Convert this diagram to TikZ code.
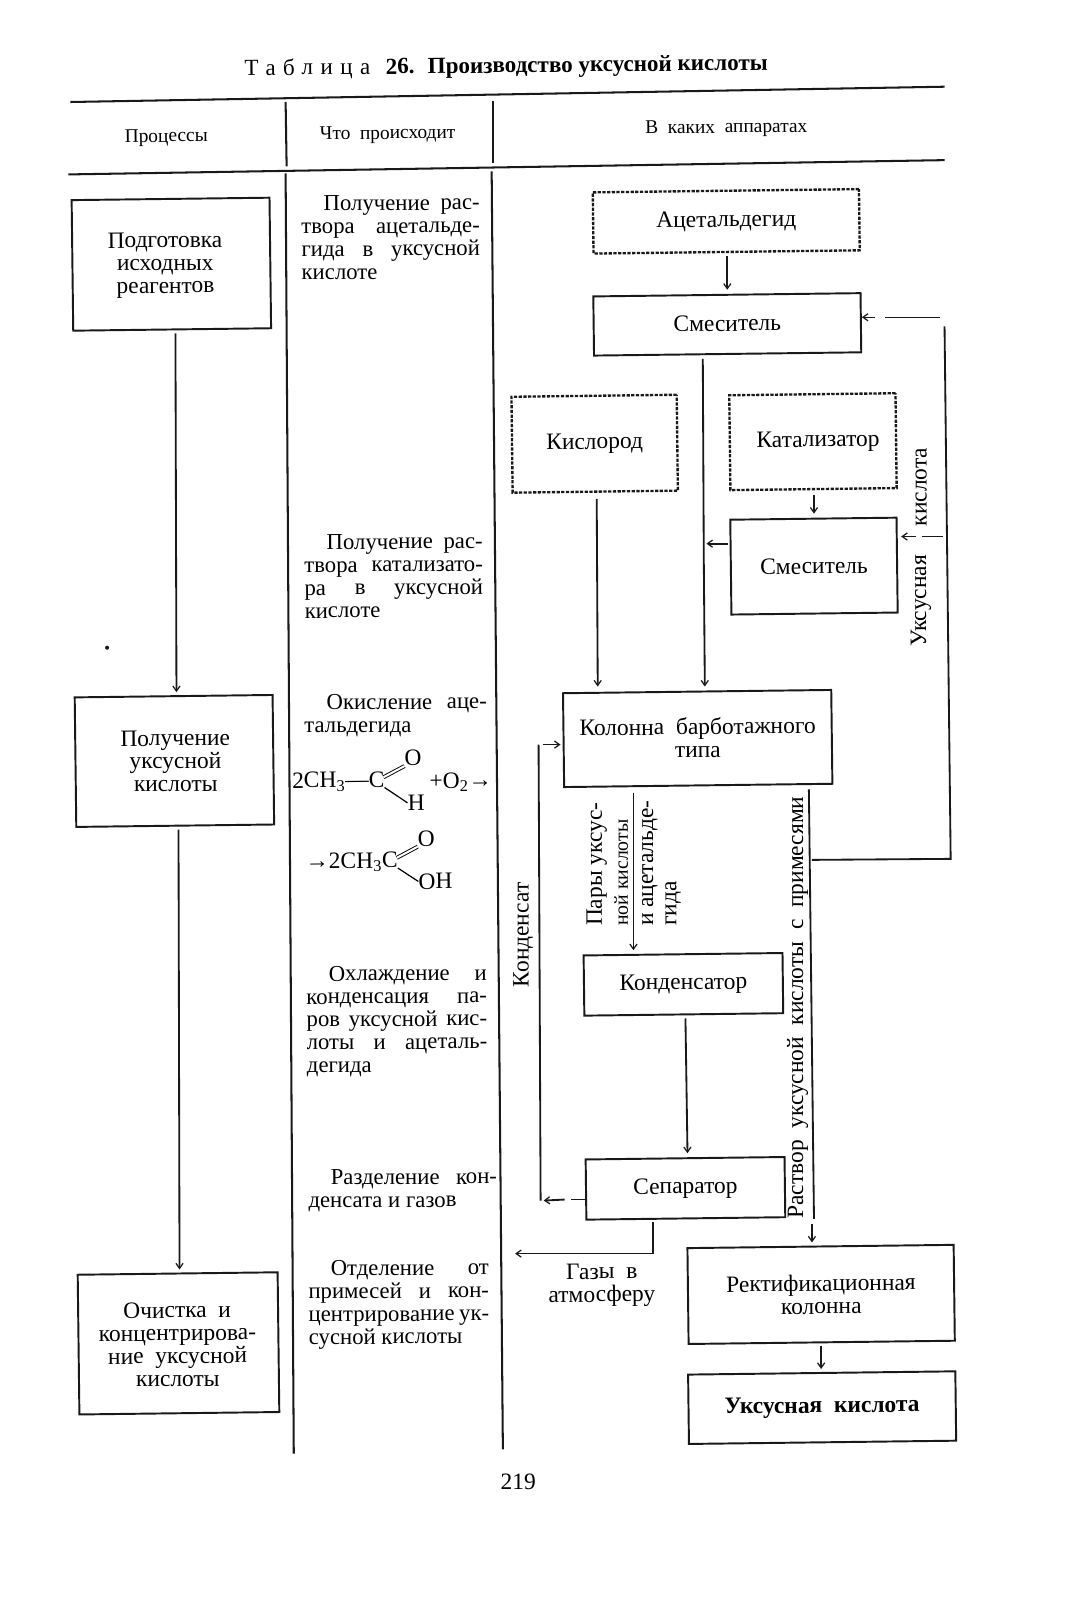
\documentclass[tikz,border=0pt]{standalone}
\usepackage{fontspec}
\setmainfont{Liberation Serif}
\usetikzlibrary{arrows.meta,calc}
\newcommand{\fs}{\fontsize{23}{22.4}\selectfont\hyphenpenalty=10000 }
\newcommand{\fm}{\fontsize{22.3}{22.4}\selectfont\hyphenpenalty=10000 }
\newcommand{\ind}{\hspace*{22pt}}
\tikzset{
  inkline/.style={line width=1.8pt,draw=black!90},
  arr/.style={inkline,-{Straight Barb[length=5pt,width=7pt,line width=1.2pt]}},
  rule/.style={line width=2pt,draw=black!90},
  box/.style={draw=black!90,line width=1.9pt,inner sep=0pt,rotate=0.7,align=center,font=\fs},
  dbox/.style={box,line width=2.3pt,dash pattern=on 3.2pt off 1.4pt},
  lab/.style={inner sep=0pt,align=center,font=\fs,rotate=0.6},
  vlab/.style={inner sep=0pt,anchor=west,rotate=90,font=\fs},
  hdr/.style={inner sep=0pt,font=\fontsize{19}{20}\selectfont,rotate=0.6},
  just/.style={inner sep=0pt,anchor=north west,text width=#1,align=justify,font=\fm,rotate=0.4},
}
\begin{document}
\begin{tikzpicture}[x=1pt,y=-1pt]
\useasboundingbox (0,0) rectangle (1046,1568.6);
% title
\node[inner sep=0pt,rotate=0.6,anchor=east,font=\fontsize{22.6}{24}\selectfont] (title) at (753,63) {\addfontfeature{LetterSpace=32}Таблица\addfontfeature{LetterSpace=0}\hspace{8pt}\textbf{26.}\hspace{13pt}\textbf{Производство уксусной кислоты}};
% rules
\coordinate (r1a) at (69,100); \coordinate (r1b) at (926,85);
\coordinate (r2a) at (67,171); \coordinate (r2b) at (926,157);
\draw[rule] (r1a) -- (r1b);
\draw[rule] (r2a) -- (r2b);
\coordinate (v1a) at (280,100); \coordinate (v1b) at (281,163);
\coordinate (v2a) at (483,99); \coordinate (v2b) at (483,160);
\coordinate (v3a) at (280,170); \coordinate (v3b) at (288,1425);
\coordinate (v4a) at (482,168); \coordinate (v4b) at (493,1421);
\draw[rule] (v1a) -- (v1b);
\draw[rule] (v2a) -- (v2b);
\draw[rule] (v3a) -- (v3b);
\draw[rule] (v4a) -- (v4b);
% headers
\node[hdr] (h1) at (163,135) {Процессы};
\node[hdr] (h2) at (380,132) {Что\ \ происходит};
\node[hdr] (h3) at (712,126) {В\ \ каких\ \ аппаратах};
% process boxes
\node[box,minimum width=194,minimum height=128] (p1) at (168,259) {};
\node[box,minimum width=194,minimum height=127] (p2) at (171,746) {};
\node[box,minimum width=196,minimum height=137] (p3) at (175,1317) {};
\node[lab] (p1t) at (162,260) {Подготовка\\ исходных\\ реагентов};
\node[lab] (p2t) at (172,746) {Получение\\ уксусной\\ кислоты};
\node[lab] (p3t) at (174,1318) {Очистка\ \ и\\ концентрирова-\\ ние\ \ уксусной\\ кислоты};
\coordinate (xa) at (172,0); \coordinate (xb) at (175,0);
\draw[arr] (p1.south -| xa) ++(0,3) -- ($(p2.north -| xa)+(1,-3)$);
\draw[arr] (p2.south -| xb) ++(0,3) -- ($(p3.north -| xb)+(1,-3)$);
\fill[black!90] (105,635) circle (2pt);
% middle column
\node[just=175pt] (t1) at (295,192) {\ind Получение рас-\linebreak твора ацетальде-\linebreak гида в уксусной\linebreak кислоте};
\node[just=175pt] (t2) at (298,524) {\ind Получение рас-\linebreak твора катализато-\linebreak ра в уксусной\linebreak кислоте};
\node[just=179pt] (t3) at (298,681) {\ind Окисление аце-\linebreak тальдегида};
\node[just=177pt] (t4) at (300,947) {\ind Охлаждение и\linebreak конденсация па-\linebreak ров уксусной кис-\linebreak лоты и ацеталь-\linebreak дегида};
\node[just=185pt] (t5) at (302,1147) {\ind Разделение кон-\linebreak денсата и газов};
\node[just=177pt] (t6) at (302,1236) {\ind Отделение от\linebreak примесей и кон-\linebreak центрирование ук-\linebreak сусной кислоты};
% formula
\node[lab,anchor=east] (c1) at (377,766) {2CH\textsubscript{3}—C};
\node[lab] (o1) at (405,743) {O};
\node[lab] (h1b) at (408,787) {H};
\node[lab,anchor=west] (plus) at (421,767) {+O\textsubscript{2}→};
\draw[line width=0.9pt,double,double distance=2pt] ($(c1.east)+(-1,-4)$) -- (o1.south west);
\draw[line width=1.2pt] ($(c1.east)+(0,6)$) -- (h1b.west);
\node[lab,anchor=east] (c2) at (390,845) {→2CH\textsubscript{3}C};
\node[lab] (o2) at (418,822) {O};
\node[lab] (oh) at (427,864) {OH};
\draw[line width=0.9pt,double,double distance=2pt] ($(c2.east)+(-1,-4)$) -- (o2.south west);
\draw[line width=1.2pt] ($(c2.east)+(0,6)$) -- (oh.west);
% apparatus boxes
\node[dbox,minimum width=261,minimum height=60] (acet) at (712,217) {Ацетальдегид};
\node[box,minimum width=262,minimum height=58] (mix1) at (713,318) {\raisebox{2pt}{Смеситель}};
\node[dbox,minimum width=162,minimum height=94] (oxy) at (583,435) {Кислород};
\node[dbox,minimum width=163,minimum height=93] (cat) at (797,433) {\hspace*{10pt}Катализатор};
\node[box,minimum width=163,minimum height=93] (mix2) at (798,555) {Смеситель};
\node[box,minimum width=263,minimum height=92] (col) at (684,724) {\raisebox{2pt}{Колонна\ \ барботажного}\\ \raisebox{2pt}{типа}};
\node[box,minimum width=195,minimum height=59] (cond) at (670,965) {Конденсатор};
\node[box,minimum width=195,minimum height=59] (sep) at (672,1165) {Сепаратор};
\node[box,minimum width=261,minimum height=94] (rect) at (805,1269) {Ректификационная\\ колонна};
\node[box,minimum width=262,minimum height=68] (acid) at (806,1380) {\textbf{Уксусная\ \ кислота}};
% connectors
\coordinate (x1) at (713,0);
\draw[arr] ($(acet.south -| x1)+(0,3)$) -- ($(mix1.north -| x1)+(0,-4)$);
\coordinate (x2) at (689,0);
\draw[inkline] ($(mix1.south -| x2)+(0,4)$) -- ++(1,200) coordinate (m2);
\draw[arr] (m2) -- ($(col.north -| x2)+(2,-4)$);
\coordinate (x3) at (585,0);
\draw[arr] ($(oxy.south -| x3)+(0,6)$) -- ($(col.north -| x3)+(1,-4)$);
\coordinate (x4) at (798,0);
\draw[arr] ($(cat.south -| x4)+(0,5)$) -- ($(mix2.north -| x4)+(0,-4)$);
\coordinate (y5) at (0,533);
\draw[arr] (mix2.west |- y5) ++(-2,0) -- ++(-21,0);
% recycle of acid
\coordinate (ra) at (926,320); \coordinate (rb) at (932,842); \coordinate (rc) at (796,843);
\draw[inkline] (ra) -- (rb) -- (rc);
\coordinate (y6) at (0,311);
\coordinate (rd) at (922,311);
\draw[inkline,line width=1.2pt] (rd) -- (868,311);
\draw[arr,line width=1.2pt] (858,311) -- (mix1.east |- y6);
\coordinate (y7) at (0,526);
\coordinate (re) at (924,526);
\draw[inkline,line width=1.2pt] (re) -- (904,526);
\draw[arr,line width=1.2pt] (898,526) -- ($(mix2.east |- y7)+(3,0)$);
\node[vlab] (l1) at (903,634) {Уксусная};
\node[vlab] (l2) at (903,516) {кислота};
% column outlets
\coordinate (x8) at (621,0);
\draw[arr] ($(col.south -| x8)+(0,6)$) -- ($(cond.north -| x8)+(0,-3)$);
\node[vlab] (l3) at (585,908) {Пары уксус-};
\node[vlab,font=\fontsize{19.4}{20}\selectfont] (l4) at (609,908) {ной кислоты};
\node[vlab] (l5) at (637,908) {и ацетальде-};
\node[vlab] (l6) at (660,908) {гида};
\coordinate (x9) at (793,0);
\draw[inkline] ($(col.south -| x9)+(0,3)$) -- (798,1195) coordinate (s9);
\coordinate (x9b) at (796,0);
\draw[arr] (x9b |- s9) ++(0,5) -- ($(rect.north -| x9b)+(0,-3)$);
\node[vlab] (l7) at (782,1195) {Раствор\ \ уксусной\ \ кислоты\ \ с\ \ примесями};
% condensate
\coordinate (x10) at (672,0);
\draw[arr] ($(cond.south -| x10)+(0,3)$) -- ($(sep.north -| x10)+(2,-4)$);
\coordinate (ca) at (528,730); \coordinate (cb) at (530,1177);
\draw[inkline] (ca) -- (cb);
\coordinate (y11) at (0,1176);
\draw[inkline] (sep.west |- y11) -- ++(-14,0) coordinate (c11);
\draw[arr] ($(c11)+(-6,0)$) -- ($(cb)+(3,0)$);
\draw[arr,line width=1.2pt] (ca) ++(4,0) -- ($(col.west |- ca)+(-2,0)$);
\node[vlab] (l8) at (513,968) {Конденсат};
% gases
\coordinate (x12) at (640,0);
\draw[inkline] ($(sep.south -| x12)+(0,3)$) -- (640,1229) coordinate (g1);
\coordinate (g2) at (505,1229);
\draw[arr,line width=1.2pt] (g1) -- (g2);
\node[lab] (gas) at (590,1260) {Газы\ \ в\\ атмосферу};
\coordinate (x13) at (805,0);
\draw[arr] ($(rect.south -| x13)+(0,3)$) -- ($(acid.north -| x13)+(0,-3)$);
\node[inner sep=0pt,font=\fs] (page) at (508,1453) {219};
\end{tikzpicture}
\end{document}
